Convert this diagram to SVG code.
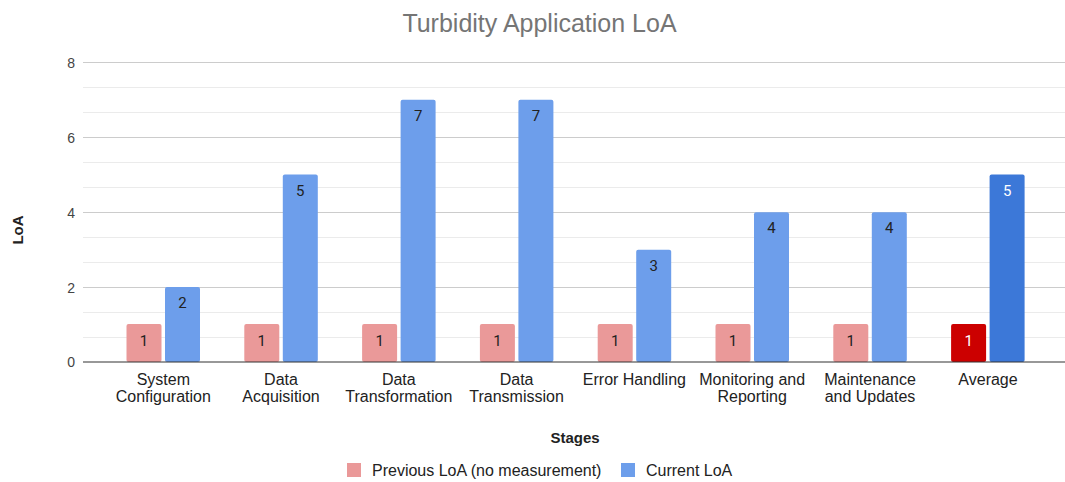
<svg xmlns="http://www.w3.org/2000/svg" width="1065" height="482" viewBox="0 0 1065 482">
<style>
.title{font-family:"Liberation Sans",Arial,sans-serif;font-size:25px;fill:#757575;text-anchor:middle}
.tick{font-family:"Liberation Sans",Arial,sans-serif;font-size:14px;fill:#444;text-anchor:end}
.axt{font-family:"Liberation Sans",Arial,sans-serif;font-size:15px;font-weight:bold;fill:#222;text-anchor:middle}
.cat{font-family:"Liberation Sans",Arial,sans-serif;font-size:16px;fill:#222;text-anchor:middle}
.val{font-family:Roboto,"Liberation Sans",sans-serif;font-size:15px;fill:#222;text-anchor:middle}
.valw{font-family:Roboto,"Liberation Sans",sans-serif;font-size:15px;fill:#fff;text-anchor:middle}
.leg{font-family:"Liberation Sans",Arial,sans-serif;font-size:16px;fill:#222}
.major{stroke:#cccccc;stroke-width:1}
.minor{stroke:#ebebeb;stroke-width:1}
.prev{fill:#ea9999}
.cur{fill:#6d9eeb}
.prevA{fill:#cc0000}
.curA{fill:#3c78d8}
</style>
<rect width="1065" height="482" fill="#fff"/>
<text class="title" x="539.5" y="32">Turbidity Application LoA</text>
<g id="grid">
<line class="minor" x1="83" y1="87.5" x2="1065" y2="87.5"/>
<line class="minor" x1="83" y1="112.5" x2="1065" y2="112.5"/>
<line class="minor" x1="83" y1="162.5" x2="1065" y2="162.5"/>
<line class="minor" x1="83" y1="187.5" x2="1065" y2="187.5"/>
<line class="minor" x1="83" y1="237.5" x2="1065" y2="237.5"/>
<line class="minor" x1="83" y1="262.5" x2="1065" y2="262.5"/>
<line class="minor" x1="83" y1="312.5" x2="1065" y2="312.5"/>
<line class="minor" x1="83" y1="337.5" x2="1065" y2="337.5"/>
<line class="major" x1="83" y1="62.5" x2="1065" y2="62.5"/>
<line class="major" x1="83" y1="137.5" x2="1065" y2="137.5"/>
<line class="major" x1="83" y1="212.5" x2="1065" y2="212.5"/>
<line class="major" x1="83" y1="287.5" x2="1065" y2="287.5"/>
</g>
<g id="yaxis">
<text class="tick" x="75" y="68">8</text>
<text class="tick" x="75" y="143">6</text>
<text class="tick" x="75" y="218">4</text>
<text class="tick" x="75" y="293">2</text>
<text class="tick" x="75" y="367">0</text>
<text class="axt" transform="translate(23,230) rotate(-90)">LoA</text>
</g>
<g id="bars">
<g id="system-configuration">
<rect class="prev" x="126.5" y="324" width="35" height="38" rx="2"/><text class="val" x="144" y="346">1</text>
<rect class="cur" x="165" y="287" width="35" height="75" rx="2"/><text class="val" x="182.5" y="308">2</text>
</g>
<g id="data-acquisition">
<rect class="prev" x="244.3" y="324" width="35" height="38" rx="2"/><text class="val" x="261.8" y="346">1</text>
<rect class="cur" x="282.8" y="174.5" width="35" height="187.5" rx="2"/><text class="val" x="300.3" y="195.5">5</text>
</g>
<g id="data-transformation">
<rect class="prev" x="362.1" y="324" width="35" height="38" rx="2"/><text class="val" x="379.6" y="346">1</text>
<rect class="cur" x="400.6" y="99.8" width="35" height="262.2" rx="2"/><text class="val" x="418.1" y="120.5">7</text>
</g>
<g id="data-transmission">
<rect class="prev" x="479.9" y="324" width="35" height="38" rx="2"/><text class="val" x="497.4" y="346">1</text>
<rect class="cur" x="518.4" y="99.8" width="35" height="262.2" rx="2"/><text class="val" x="535.9" y="120.5">7</text>
</g>
<g id="error-handling">
<rect class="prev" x="597.7" y="324" width="35" height="38" rx="2"/><text class="val" x="615.2" y="346">1</text>
<rect class="cur" x="636.2" y="249.7" width="35" height="112.3" rx="2"/><text class="val" x="653.7" y="270.5">3</text>
</g>
<g id="monitoring-reporting">
<rect class="prev" x="715.5" y="324" width="35" height="38" rx="2"/><text class="val" x="733" y="346">1</text>
<rect class="cur" x="754" y="212.3" width="35" height="149.7" rx="2"/><text class="val" x="771.5" y="233">4</text>
</g>
<g id="maintenance-updates">
<rect class="prev" x="833.3" y="324" width="35" height="38" rx="2"/><text class="val" x="850.8" y="346">1</text>
<rect class="cur" x="871.8" y="212.3" width="35" height="149.7" rx="2"/><text class="val" x="889.3" y="233">4</text>
</g>
<g id="average">
<rect class="prevA" x="951.1" y="324" width="35" height="38" rx="2"/><text class="valw" x="968.6" y="346">1</text>
<rect class="curA" x="989.6" y="174.5" width="35" height="187.5" rx="2"/><text class="valw" x="1007.1" y="195.5">5</text>
</g>
</g>
<line id="baseline" x1="83" y1="362" x2="1065" y2="362" stroke="#333" stroke-width="1.2"/>
<g id="xlabels">
<text class="cat" x="163.3" y="385">System</text><text class="cat" x="163.3" y="402">Configuration</text>
<text class="cat" x="281" y="385">Data</text><text class="cat" x="281" y="402">Acquisition</text>
<text class="cat" x="398.8" y="385">Data</text><text class="cat" x="398.8" y="402">Transformation</text>
<text class="cat" x="516.6" y="385">Data</text><text class="cat" x="516.6" y="402">Transmission</text>
<text class="cat" x="634.4" y="385">Error Handling</text>
<text class="cat" x="752.2" y="385">Monitoring and</text><text class="cat" x="752.2" y="402">Reporting</text>
<text class="cat" x="870" y="385">Maintenance</text><text class="cat" x="870" y="402">and Updates</text>
<text class="cat" x="988" y="385">Average</text>
</g>
<text class="axt" x="575" y="443">Stages</text>
<g id="legend">
<rect class="prev" x="347" y="463" width="14" height="14"/>
<text class="leg" x="372" y="476">Previous LoA (no measurement)</text>
<rect class="cur" x="621" y="463" width="14" height="14"/>
<text class="leg" x="646" y="476">Current LoA</text>
</g>
</svg>
